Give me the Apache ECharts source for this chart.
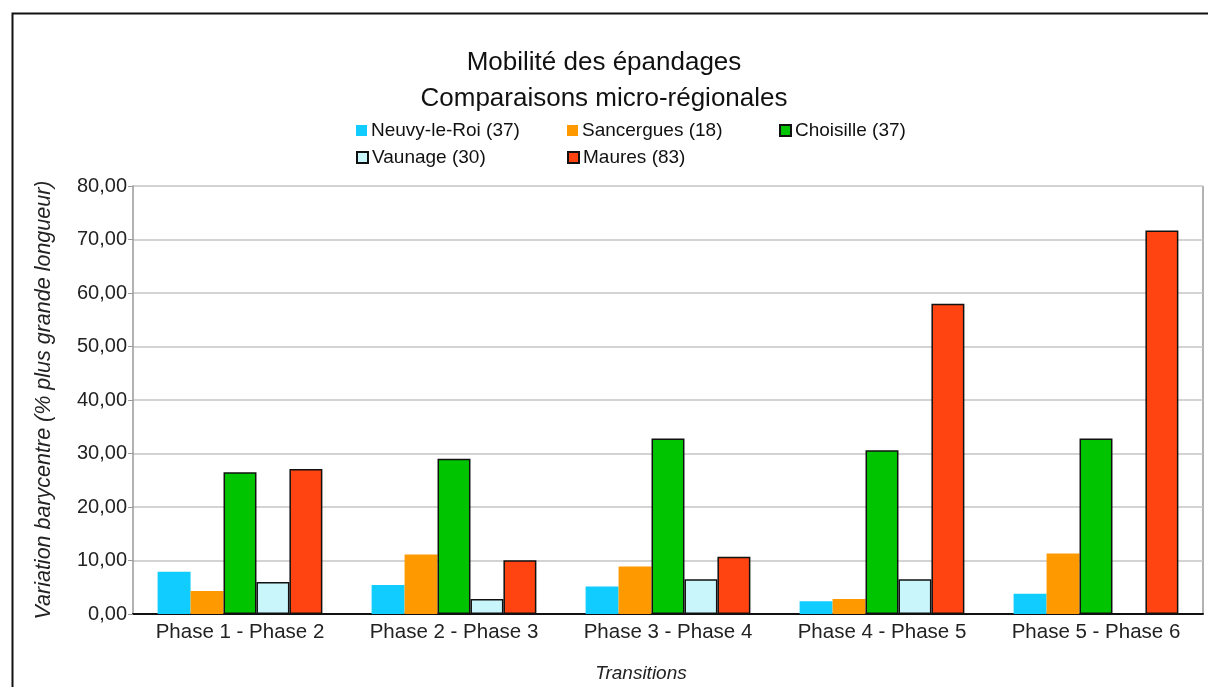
<!DOCTYPE html>
<html lang="fr">
<head>
<meta charset="utf-8">
<title>Mobilité des épandages</title>
<script src="https://cdn.jsdelivr.net/npm/echarts@6/dist/echarts.min.js"></script>
<style>
    html, body { margin: 0; padding: 0; background: #fff; }
    #chart { width: 1208px; height: 687px; }
</style>
</head>
<body>
<div id="chart"></div>
<script>
// données
const categories = ['Phase 1 - Phase 2', 'Phase 2 - Phase 3', 'Phase 3 - Phase 4', 'Phase 4 - Phase 5', 'Phase 5 - Phase 6']
const neuvy = [7.9, 5.4, 5.15, 2.4, 3.8]
const sancergues = [4.3, 11.1, 8.9, 2.8, 11.3]
const choisille = [26.5, 29.0, 32.8, 30.6, 32.8]
const vaunage = [6.0, 2.8, 6.5, 6.5, 0]
const maures = [27.1, 10.05, 10.7, 58.0, 71.7]

const seriesDefs = [
    { name: 'Neuvy-le-Roi (37)', data: neuvy, color: '#11ccff', border: false },
    { name: 'Sancergues (18)', data: sancergues, color: '#ff9900', border: false },
    { name: 'Choisille (37)', data: choisille, color: '#00c400', border: true },
    { name: 'Vaunage (30)', data: vaunage, color: '#c9f6fb', border: true },
    { name: 'Maures (83)', data: maures, color: '#ff4411', border: true }
]

const FONT = '"Liberation Sans", Arial, sans-serif'

// positions des entrées de légende (grille 3 colonnes)
const legendPos = [
    { left: 356, top: 121 },
    { left: 567, top: 121 },
    { left: 779, top: 121 },
    { left: 356, top: 148 },
    { left: 567, top: 148 }
]

const chart = echarts.init(document.getElementById('chart'))

chart.setOption({
    backgroundColor: '#fff',
    animation: false,
    title: {
        text: 'Mobilité des épandages\nComparaisons micro-régionales',
        left: 'center',
        top: 40,
        textStyle: {
            fontFamily: FONT,
            fontSize: 26,
            fontWeight: 'normal',
            color: '#111',
            lineHeight: 36
        }
    },
    legend: seriesDefs.map((s, i) => ({
        left: legendPos[i].left,
        top: legendPos[i].top,
        padding: 0,
        itemWidth: 11,
        itemHeight: 11,
        itemGap: 4,
        icon: 'rect',
        data: [s.name],
        textStyle: { fontFamily: FONT, fontSize: 19, color: '#111', padding: [0, 0, 0, -1] }
    })),
    graphic: [
        {
            type: 'rect',
            left: 10,
            top: 11,
            shape: { width: 1300, height: 800 },
            style: { fill: 'none', stroke: '#111', lineWidth: 2 },
            silent: true
        },
        // bordure droite de la zone de tracé
        {
            type: 'line',
            shape: { x1: 1203, y1: 186, x2: 1203, y2: 614 },
            style: { stroke: '#999', lineWidth: 1.5 },
            silent: true
        }
    ],
    grid: {
        left: 133,
        right: 5,
        top: 186,
        bottom: 73,
        outerBoundsMode: 'none',
        containLabel: false
    },
    xAxis: {
        type: 'category',
        data: categories,
        name: 'Transitions',
        nameLocation: 'middle',
        nameGap: 50,
        nameTextStyle: { fontFamily: FONT, fontSize: 19, fontStyle: 'italic', color: '#222', padding: [0, 54, 0, 0] },
        axisLine: { lineStyle: { color: '#111', width: 2 } },
        axisTick: { show: false },
        axisLabel: { fontFamily: FONT, fontSize: 20.5, color: '#222', margin: 8, interval: 0 }
    },
    yAxis: {
        type: 'value',
        min: 0,
        max: 80,
        interval: 10,
        name: 'Variation barycentre (% plus grande longueur)',
        nameLocation: 'middle',
        nameGap: 78,
        nameTextStyle: { fontFamily: FONT, fontSize: 21.5, fontStyle: 'italic', color: '#222' },
        axisLine: { show: true, lineStyle: { color: '#999', width: 1.5 } },
        axisTick: { show: true, length: 5, lineStyle: { color: '#999' } },
        axisLabel: {
            fontFamily: FONT,
            fontSize: 20,
            color: '#222',
            margin: 6,
            formatter: v => v.toFixed(2).replace('.', ',')
        },
        splitLine: { lineStyle: { color: '#c4c4c4', width: 1.5 } }
    },
    series: seriesDefs.map(s => ({
        name: s.name,
        type: 'bar',
        data: s.data,
        barGap: '0%',
        barCategoryGap: '23%',
        itemStyle: {
            color: s.color,
            borderColor: s.border ? '#111' : s.color,
            borderWidth: s.border ? 1.5 : 0
        }
    }))
})
</script>
</body>
</html>
